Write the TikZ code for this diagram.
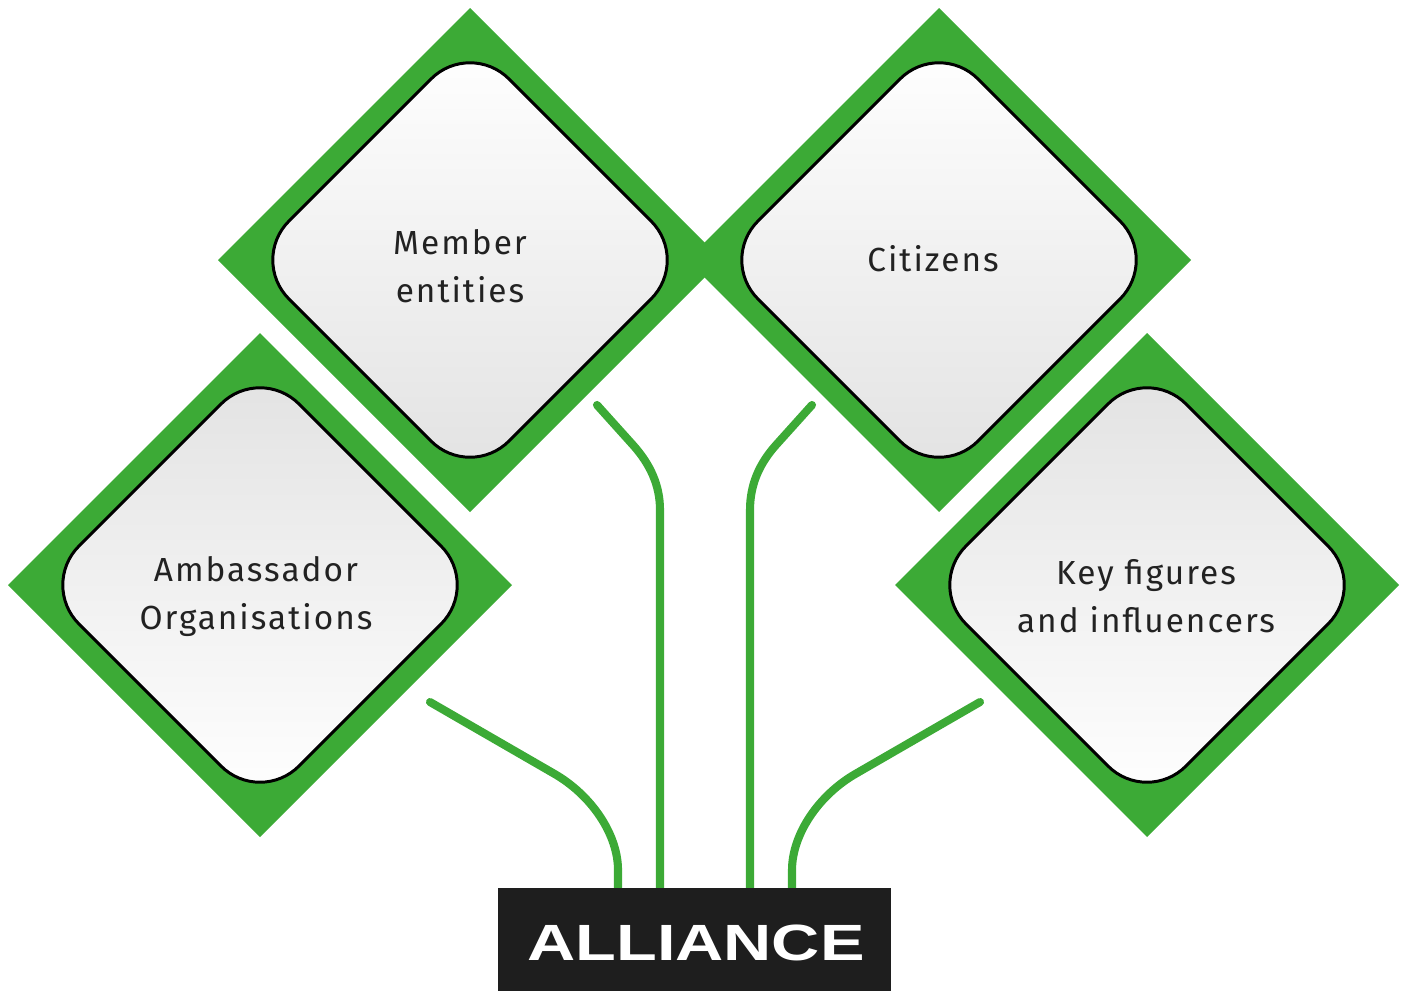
\documentclass[tikz,border=0pt]{standalone}
\usepackage{fontspec}
\setmainfont{Fira Sans}[LetterSpace=6]
\newfontfamily\boldwide{Liberation Sans}
\definecolor{leaf}{HTML}{3CAA36}
\definecolor{shadegray}{HTML}{E2E2E2}
\definecolor{boxdark}{HTML}{1E1E1E}
\definecolor{textdark}{HTML}{222222}
\tikzset{
  greendiamond/.style={fill=leaf, draw=none},
  innerdown/.style={draw=black, line width=1.7pt, rounded corners=1.1cm, top color=white, bottom color=shadegray},
  innerup/.style={draw=black, line width=1.7pt, rounded corners=1.1cm, top color=shadegray, bottom color=white},
  labeltext/.style={align=center, text=textdark, font=\fontsize{19}{27.3}\selectfont, inner sep=0pt},
  branch/.style={draw=leaf, line width=4.6pt, line cap=round},
  darkbox/.style={fill=boxdark, minimum width=7.86cm, minimum height=2.06cm, inner sep=0pt, anchor=north west}
}
\begin{document}
\begin{tikzpicture}[x=0.02cm, y=-0.02cm]
\useasboundingbox (0,0) rectangle (1408,991);
% green diamonds
\fill[greendiamond] (470,8) -- (722,260) -- (470,512) -- (218,260) -- cycle;
\fill[greendiamond] (939,8) -- (1191,260) -- (939,512) -- (687,260) -- cycle;
\fill[greendiamond] (260,333) -- (512,585) -- (260,837) -- (8,585) -- cycle;
\fill[greendiamond] (1147,333) -- (1399,585) -- (1147,837) -- (895,585) -- cycle;
% inner rounded diamonds
\path[innerdown] (470,40) -- (690,260) -- (470,480) -- (250,260) -- cycle;
\path[innerdown] (939,40) -- (1159,260) -- (939,480) -- (719,260) -- cycle;
\path[innerup] (260,365) -- (480,585) -- (260,805) -- (40,585) -- cycle;
\path[innerup] (1147,365) -- (1367,585) -- (1147,805) -- (927,585) -- cycle;
% labels
\node[labeltext] (member) at (460,266) {Member\\entities};
\node[labeltext] (citizens) at (933,259) {Citizens};
\node[labeltext] (ambassador) at (256,597) {Ambassador\\Organisations};
\node[labeltext] (keyfig) at (1146,596) {Key figures\\and influencers};
% alliance box
\node[darkbox] (alliance) at (498,888) {};
% branches
\coordinate (s1) at (430,702);
\coordinate (s2) at (597,405);
\coordinate (s3) at (812,405);
\coordinate (s4) at (980,702);
\draw[branch] (s1) -- (553,773) .. controls (592,795) and (618,835) .. (618,870) -- (alliance.north west -| 618,0);
\draw[branch] (s2) -- (633,445) .. controls (650,464) and (660,485) .. (660,510) -- (alliance.north west -| 660,0);
\draw[branch] (s3) -- (776,445) .. controls (759,464) and (750,485) .. (750,510) -- (alliance.north west -| 750,0);
\draw[branch] (s4) -- (857,773) .. controls (818,795) and (792,835) .. (792,870) -- (alliance.north west -| 792,0);
\node[darkbox] at (498,888) {};
\node[text=white, inner sep=0pt] (alliancetext) at (696,943) {\scalebox{1.31}[1]{\boldwide\bfseries\fontsize{29}{30}\selectfont ALLIANCE}};
\end{tikzpicture}
\end{document}
